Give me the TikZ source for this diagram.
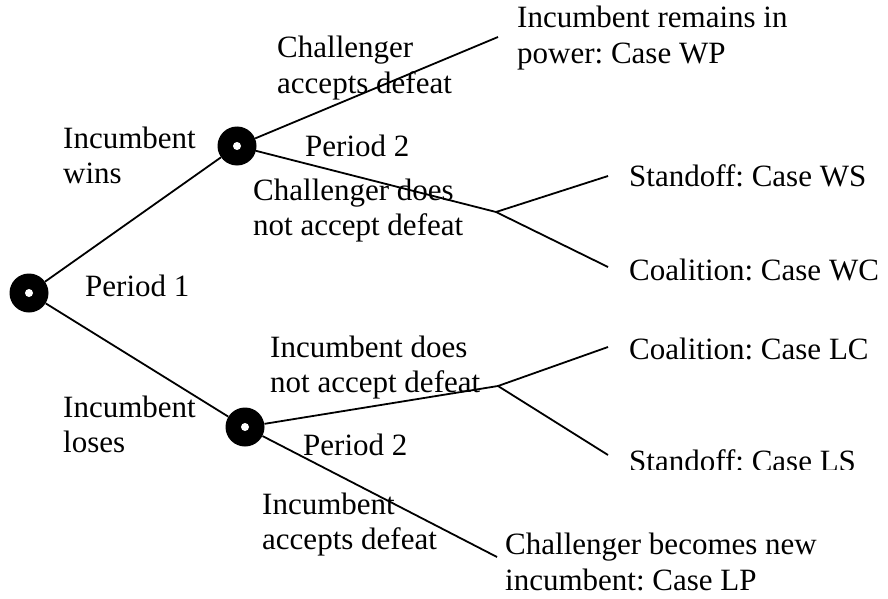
\documentclass[tikz,border=0pt]{standalone}
\usepackage{fontspec}
\setmainfont{Liberation Serif}
\frenchspacing
\begin{document}
\begin{tikzpicture}[x=1pt,y=-1pt,
  decision/.style={circle,fill=black,inner sep=0pt,minimum size=39pt},
  branch/.style={line width=1.8pt},
  lbl/.style={anchor=base west,inner sep=0pt,font=\fontsize{31}{35.5}\selectfont,align=left}]
\useasboundingbox (0,0) rectangle (888,599);
% nodes
\node[decision] (r) at (29,293) {};
\node[decision] (w) at (237,146) {};
\node[decision] (l) at (245,427) {};
\coordinate (wp) at (498,37);
\coordinate (j1) at (496,212);
\coordinate (ws) at (608,176);
\coordinate (wc) at (608,267);
\coordinate (j2) at (498,386);
\coordinate (lc) at (608,347);
\coordinate (ls) at (608,455);
\coordinate (lp) at (497,557);
% connectors
\draw[branch] (r) -- (w);
\draw[branch] (r) -- (l);
\draw[branch] (w) -- (wp);
\draw[branch] (w) -- (j1);
\draw[branch] (j1) -- (ws);
\draw[branch] (j1) -- (wc);
\draw[branch] (l) -- (j2);
\draw[branch] (j2) -- (lc);
\draw[branch] (j2) -- (ls);
\draw[branch] (l) -- (lp);
% inner dots
\foreach \n in {r,w,l} \fill[white] (\n) circle (4);
% labels (anchor = baseline of the last line)
\node[lbl] (t1) at (517,63.5) {Incumbent remains in\\power: Case WP};
\node[lbl] (t2) at (277,93.5) {Challenger\\accepts defeat};
\node[lbl] (t3) at (63,183.5) {Incumbent\\wins};
\node[lbl] (t4) at (305,157) {Period 2};
\node[lbl] (t5) at (253,235.5) {Challenger does\\not accept defeat};
\node[lbl] (t6) at (629,186) {Standoff: Case WS};
\node[lbl] (t7) at (629,280) {Coalition: Case WC};
\node[lbl] (t8) at (85,296) {Period 1};
\node[lbl] (t9) at (270,392.5) {Incumbent does\\not accept defeat};
\node[lbl] (t10) at (629,359) {Coalition: Case LC};
\node[lbl] (t11) at (63,452.5) {Incumbent\\loses};
\node[lbl] (t12) at (303,455) {Period 2};
\begin{scope}
\clip (600,430) rectangle (888,469);
\node[lbl] (t13) at (629,471) {Standoff: Case LS};
\end{scope}
\node[lbl] (t14) at (262,549.5) {Incumbent\\accepts defeat};
\node[lbl] (t15) at (505,590) {Challenger becomes new\\incumbent: Case LP};
\end{tikzpicture}
\end{document}
